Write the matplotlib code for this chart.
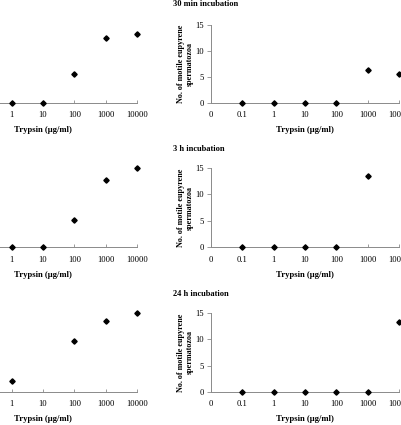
import numpy as np
import matplotlib
matplotlib.use("Agg")
import matplotlib.pyplot as plt

categories = ["0", "0.1", "1", "10", "100", "1000", "10000"]
titles = ["30 min incubation", "3 h incubation", "24 h incubation"]
nan = np.nan
left_values = [
    [0, 0, 0, 0, 5.5, 12.5, 13.2],
    [0, 0, 0, 0, 5.2, 12.7, 15.0],
    [0, 0, 2.1, nan, 9.6, 13.5, 15.0],
]
right_values = [
    [nan, 0, 0, 0, 0, 6.3, 5.5],
    [nan, 0, 0, 0, 0, 13.4, nan],
    [nan, 0, 0, 0, 0, 0, 13.2],
]
yticks = [0, 5, 10, 15]
xlabel = "Trypsin (µg/ml)"
ylabel = "No. of motile eupyrene\nspermatozoa"

W, H = 402, 425
fig = plt.figure(figsize=(W / 100, H / 100), dpi=100)
plt.rcParams['font.family'] = ['Liberation Serif', 'DejaVu Serif']

# (top_px, zero_px) for each row
rows = [(25.0, 102.7), (167.7, 247.3), (312.7, 392.0)]
title_y = [4.5, 149.3, 294.0]
axis_col = "#8a8a8a"
fs = 6.2

def make_ax(x0_px, top, zero, vals, is_right):
    ax = fig.add_axes([x0_px / W, (H - zero) / H, 188 / W, (zero - top) / H])
    x = np.arange(len(categories))
    ax.plot(x, vals, linestyle="none", marker="D", markersize=2.7,
            color="black", clip_on=False, zorder=5)
    ax.set_xlim(0, len(categories) - 1)
    ax.set_ylim(0, 15)
    ax.set_xticks(x)
    if is_right:
        ax.set_xticklabels(categories, fontsize=fs)
    else:
        # the left column is cropped in the reference: the first labels lie off-image
        ax.set_xticklabels(["", ""] + categories[2:], fontsize=fs)
    for s in ["top", "right"]:
        ax.spines[s].set_visible(False)
    ax.spines["bottom"].set_color(axis_col)
    ax.spines["left"].set_color(axis_col)
    ax.spines["bottom"].set_linewidth(0.7)
    ax.spines["left"].set_linewidth(0.7)
    ax.tick_params(axis="x", direction="in", length=2.5, width=0.6,
                   color=axis_col, pad=6)
    ax.set_yticks(yticks)
    if is_right:
        ax.set_yticklabels([str(t) for t in yticks], fontsize=fs)
    else:
        ax.set_yticklabels([""] * len(yticks))
    ax.tick_params(axis="y", direction="out", length=3, width=0.6,
                   color=axis_col, pad=2)
    ax.set_xlabel(xlabel, fontsize=6.2, fontweight="bold", labelpad=5)
    if is_right:
        ax.set_ylabel(ylabel, fontsize=5.9, fontweight="bold", labelpad=1,
                      linespacing=1.1)
    ax.patch.set_alpha(0)
    return ax

for i, (top, zero) in enumerate(rows):
    make_ax(-51, top, zero, left_values[i], False)
    make_ax(211, top, zero, right_values[i], True)
    fig.text(173 / W, 1 - title_y[i] / H, titles[i], fontsize=6,
             fontweight="bold", ha="left", va="center")

fig.savefig("out.png", dpi=100, facecolor="white")
